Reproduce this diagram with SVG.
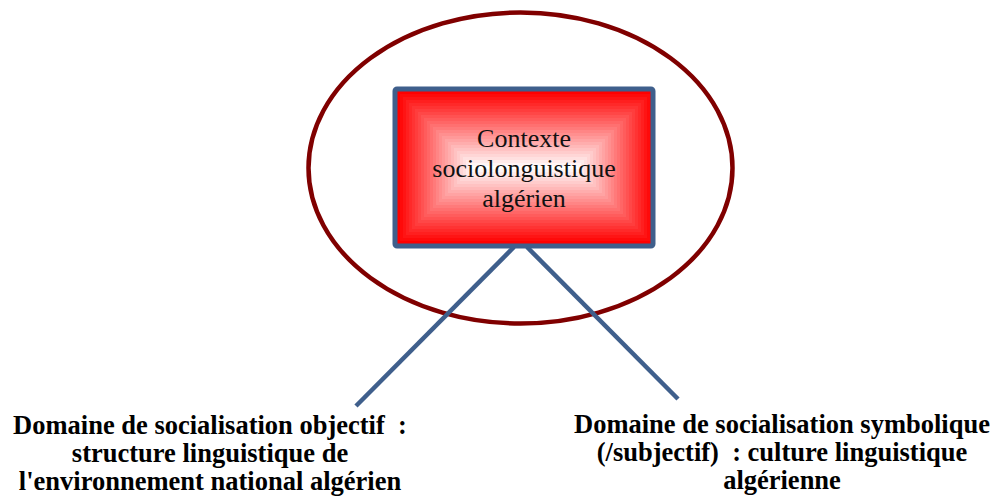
<svg xmlns="http://www.w3.org/2000/svg" width="994" height="499" viewBox="0 0 994 499">
<style>
.lbl{font-family:"Liberation Serif","Times New Roman",serif;font-weight:bold;font-size:26.5px;fill:#000;text-anchor:middle}
.ctr{font-family:"Liberation Serif","Times New Roman",serif;font-size:26px;fill:#111;text-anchor:middle}
.conn{stroke:#3f5f8c;stroke-width:4.5;fill:none}
</style>
<rect width="994" height="499" fill="#fff"/>
<g id="ellipse">
<ellipse cx="520.5" cy="168" rx="212" ry="155.5" fill="none" stroke="#800000" stroke-width="4.5"/>
</g>
<g id="connectors">
<line class="conn" x1="514" y1="247" x2="356" y2="406"/>
<line class="conn" x1="527" y1="247" x2="678" y2="399"/>
</g>
<g id="node-context">
<rect x="395" y="89" width="258" height="157" rx="2" fill="#ff0000" stroke="#3f5f8c" stroke-width="5"/>
<rect x="400" y="94" width="250" height="147" fill="#ff0a0a"/>
<rect x="403" y="97" width="244" height="141" fill="#ff1414"/>
<rect x="406" y="100" width="238" height="135" fill="#ff1f1f"/>
<rect x="409" y="103" width="232" height="129" fill="#ff2929"/>
<rect x="412" y="106" width="226" height="123" fill="#ff3333"/>
<rect x="415" y="109" width="220" height="117" fill="#ff3d3d"/>
<rect x="418" y="112" width="214" height="111" fill="#ff4747"/>
<rect x="421" y="115" width="208" height="105" fill="#ff5252"/>
<rect x="424" y="118" width="202" height="99" fill="#ff5c5c"/>
<rect x="427" y="121" width="196" height="93" fill="#ff6666"/>
<rect x="430" y="124" width="190" height="87" fill="#ff7070"/>
<rect x="433" y="127" width="184" height="81" fill="#ff7a7a"/>
<rect x="436" y="130" width="178" height="75" fill="#ff8585"/>
<rect x="439" y="133" width="172" height="69" fill="#ff8f8f"/>
<rect x="442" y="136" width="166" height="63" fill="#ff9999"/>
<rect x="445" y="139" width="160" height="57" fill="#ffa3a3"/>
<rect x="448" y="142" width="154" height="51" fill="#ffadad"/>
<rect x="451" y="145" width="148" height="45" fill="#ffb8b8"/>
<rect x="454" y="148" width="142" height="39" fill="#ffc2c2"/>
<rect x="457" y="151" width="136" height="33" fill="#ffcccc"/>
<rect x="460" y="154" width="130" height="27" fill="#ffd6d6"/>
<rect x="463" y="157" width="124" height="21" fill="#ffe0e0"/>
<rect x="466" y="160" width="118" height="15" fill="#ffebeb"/>
<rect x="469" y="163" width="112" height="9" fill="#fff5f5"/>
<rect x="472" y="166" width="106" height="3" fill="#ffffff"/>
<text class="ctr" x="524" y="147">Contexte</text>
<text class="ctr" x="524" y="177">sociolonguistique</text>
<text class="ctr" x="524" y="207">algérien</text>
</g>
<g id="node-objectif">
<text class="lbl" x="210" y="434" xml:space="preserve">Domaine de socialisation objectif  :</text>
<text class="lbl" x="210" y="462">structure linguistique de</text>
<text class="lbl" x="210" y="490">l'environnement national algérien</text>
</g>
<g id="node-symbolique">
<text class="lbl" x="782" y="433">Domaine de socialisation symbolique</text>
<text class="lbl" x="782" y="461" xml:space="preserve">(/subjectif)  : culture linguistique</text>
<text class="lbl" x="782" y="489">algérienne</text>
</g>
</svg>
